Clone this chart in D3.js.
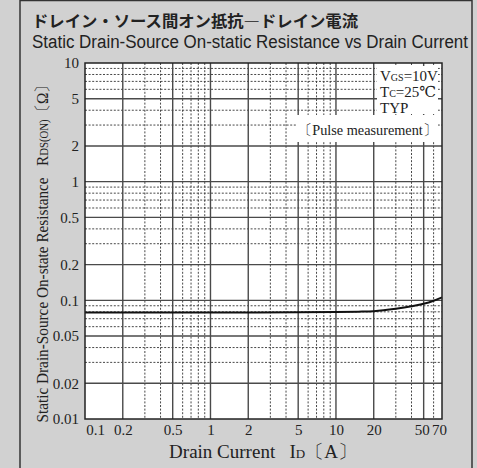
<!DOCTYPE html>
<html>
<head>
<meta charset="utf-8">
<script src="https://cdnjs.cloudflare.com/ajax/libs/d3/7.8.5/d3.min.js"></script>
<style>
  body { margin: 0; background: #d2d2d2; }
  svg { display: block; }
</style>
</head>
<body>
<svg id="chart" width="477" height="468"></svg>
<script>
// tick labels and grid positions
var xTicks = [0.1, 0.2, 0.5, 1, 2, 5, 10, 20, 50, 70]
var xMajor = [0.2, 0.5, 1, 2, 5, 10, 20, 50]
var xMinor = [0.3, 0.4, 0.6, 0.7, 0.8, 0.9, 3, 4, 6, 7, 8, 9, 30, 40, 60]
var yTicks = [0.01, 0.02, 0.05, 0.1, 0.2, 0.5, 1, 2, 5, 10]
var yMajor = [0.02, 0.05, 0.1, 0.2, 0.5, 1, 2, 5]
var yMinor = [0.03, 0.04, 0.06, 0.07, 0.08, 0.09, 0.3, 0.4, 0.6, 0.7, 0.8, 0.9, 3, 4, 6, 7, 8, 9]

// curve: Id [A] vs Rds(on) [ohm]
var current = [0.1, 0.5, 1, 5, 10, 15, 20, 30, 40, 50, 60, 70]
var resistance = [0.079, 0.079, 0.079, 0.0792, 0.0797, 0.0803, 0.081, 0.0848, 0.089, 0.0935, 0.0993, 0.106]

var svg = d3.select('#chart')
var serif = '"Liberation Serif", "DejaVu Serif", serif'

var pL = 85, pR = 442, pT = 63, pB = 419

var x = d3.scaleLog().domain([0.1, 70]).range([pL, pR])
var y = d3.scaleLog().domain([0.01, 10]).range([pB, pT])

// outer panel
svg.append('rect').attr('x', 0).attr('y', 0).attr('width', 477).attr('height', 468).style('fill', '#d1d1d1')
svg.append('line').attr('x1', 20).attr('x2', 20).attr('y1', 0).attr('y2', 468).style('stroke', '#333').style('stroke-width', 1.5)
svg.append('line').attr('x1', 472).attr('x2', 472).attr('y1', 0).attr('y2', 468).style('stroke', '#333').style('stroke-width', 1.5)
svg.append('line').attr('x1', 20).attr('x2', 472).attr('y1', 0.5).attr('y2', 0.5).style('stroke', '#333').style('stroke-width', 1.5)

// titles
svg.append('text')
  .attr('x', 32).attr('y', 27)
  .attr('textLength', 326).attr('lengthAdjust', 'spacingAndGlyphs')
  .style('font-family', '"Noto Sans CJK JP", sans-serif')
  .style('font-weight', 'bold')
  .style('font-size', '16px')
  .style('fill', '#222')
  .text('ドレイン・ソース間オン抵抗―ドレイン電流')

svg.append('text')
  .attr('x', 32).attr('y', 48)
  .attr('textLength', 436).attr('lengthAdjust', 'spacingAndGlyphs')
  .style('font-family', '"Liberation Sans", Arial, sans-serif')
  .style('font-size', '18px')
  .style('fill', '#222')
  .text('Static Drain-Source On-static Resistance vs Drain Current')

// plot background
svg.append('rect')
  .attr('x', pL).attr('y', pT)
  .attr('width', pR - pL).attr('height', pB - pT)
  .style('fill', '#fff')

var grid = svg.append('g')

grid.selectAll('.xminor').data(xMinor).enter().append('line')
  .attr('class', 'xminor')
  .attr('x1', d => x(d)).attr('x2', d => x(d))
  .attr('y1', pT).attr('y2', pB)
  .style('stroke', '#333').style('stroke-width', 0.9).style('stroke-dasharray', '2,1.6')

grid.selectAll('.yminor').data(yMinor).enter().append('line')
  .attr('class', 'yminor')
  .attr('x1', pL).attr('x2', pR)
  .attr('y1', d => y(d)).attr('y2', d => y(d))
  .style('stroke', '#333').style('stroke-width', 0.9).style('stroke-dasharray', '2,1.6')

grid.selectAll('.xmajor').data(xMajor).enter().append('line')
  .attr('class', 'xmajor')
  .attr('x1', d => x(d)).attr('x2', d => x(d))
  .attr('y1', pT).attr('y2', pB)
  .style('stroke', '#4a4a4a').style('stroke-width', 1.4)

grid.selectAll('.ymajor').data(yMajor).enter().append('line')
  .attr('class', 'ymajor')
  .attr('x1', pL).attr('x2', pR)
  .attr('y1', d => y(d)).attr('y2', d => y(d))
  .style('stroke', '#4a4a4a').style('stroke-width', 1.4)

// annotation backgrounds
svg.append('rect').attr('x', 377).attr('y', 66).attr('width', 61).attr('height', 48).style('fill', '#fff')
svg.append('rect').attr('x', 297).attr('y', 115).attr('width', 141).attr('height', 27).style('fill', '#fff')

// curve
var line = d3.line().x(d => x(d)).y((d, i) => y(resistance[i])).curve(d3.curveMonotoneX)
svg.append('path')
  .attr('d', line(current))
  .style('fill', 'none').style('stroke', '#111').style('stroke-width', 2)

// frame
svg.append('rect')
  .attr('x', pL).attr('y', pT)
  .attr('width', pR - pL).attr('height', pB - pT)
  .style('fill', 'none').style('stroke', '#222').style('stroke-width', 1.5)

// axes (labels only)
var fmt = d => String(d)
var xAxis = svg.append('g')
  .attr('transform', 'translate(0,' + pB + ')')
  .call(d3.axisBottom(x).tickValues(xTicks).tickFormat(fmt).tickSize(0).tickPadding(5))
xAxis.select('.domain').remove()
xAxis.selectAll('text')
  .style('font-family', serif).style('font-size', '15px').style('fill', '#222')
  .attr('dx', d => d === 0.1 ? 10 : (d === 50 ? -2 : (d === 70 ? -3 : 0)))

var yAxis = svg.append('g')
  .attr('transform', 'translate(' + pL + ',0)')
  .call(d3.axisLeft(y).tickValues(yTicks).tickFormat(fmt).tickSize(0).tickPadding(6))
yAxis.select('.domain').remove()
yAxis.selectAll('text')
  .style('font-family', serif).style('font-size', '15px').style('fill', '#222')

// axis titles
var xt = svg.append('text')
  .attr('x', 263).attr('y', 458)
  .attr('text-anchor', 'middle')
  .style('font-family', serif).style('font-size', '19px').style('fill', '#222')
xt.append('tspan').text('Drain Current\u2002 I')
xt.append('tspan').style('font-size', '13px').text('D')
xt.append('tspan').text('〔A〕')

var yt = svg.append('text')
  .attr('transform', 'translate(48,250) rotate(-90)')
  .attr('text-anchor', 'middle')
  .attr('textLength', 345).attr('lengthAdjust', 'spacingAndGlyphs')
  .style('font-family', serif).style('font-size', '17px').style('fill', '#222')
yt.append('tspan').text('Static Drain-Source On-state Resistance\u2002 R')
yt.append('tspan').style('font-size', '12px').text('DS(ON)')
yt.append('tspan').text('〔Ω〕')

// conditions
var cond = svg.append('g').style('font-family', serif).style('font-size', '15px').style('fill', '#222')
var t1 = cond.append('text').attr('x', 380).attr('y', 81)
t1.append('tspan').text('V')
t1.append('tspan').style('font-size', '10px').text('GS')
t1.append('tspan').text('=10V')
var t2 = cond.append('text').attr('x', 380).attr('y', 97)
t2.append('tspan').text('T')
t2.append('tspan').style('font-size', '10px').text('C')
t2.append('tspan').text('=25℃')
cond.append('text').attr('x', 380).attr('y', 113).text('TYP')
cond.append('text').attr('x', 298).attr('y', 135)
  .attr('textLength', 139).attr('lengthAdjust', 'spacingAndGlyphs')
  .text('〔Pulse measurement〕')
</script>
</body>
</html>
